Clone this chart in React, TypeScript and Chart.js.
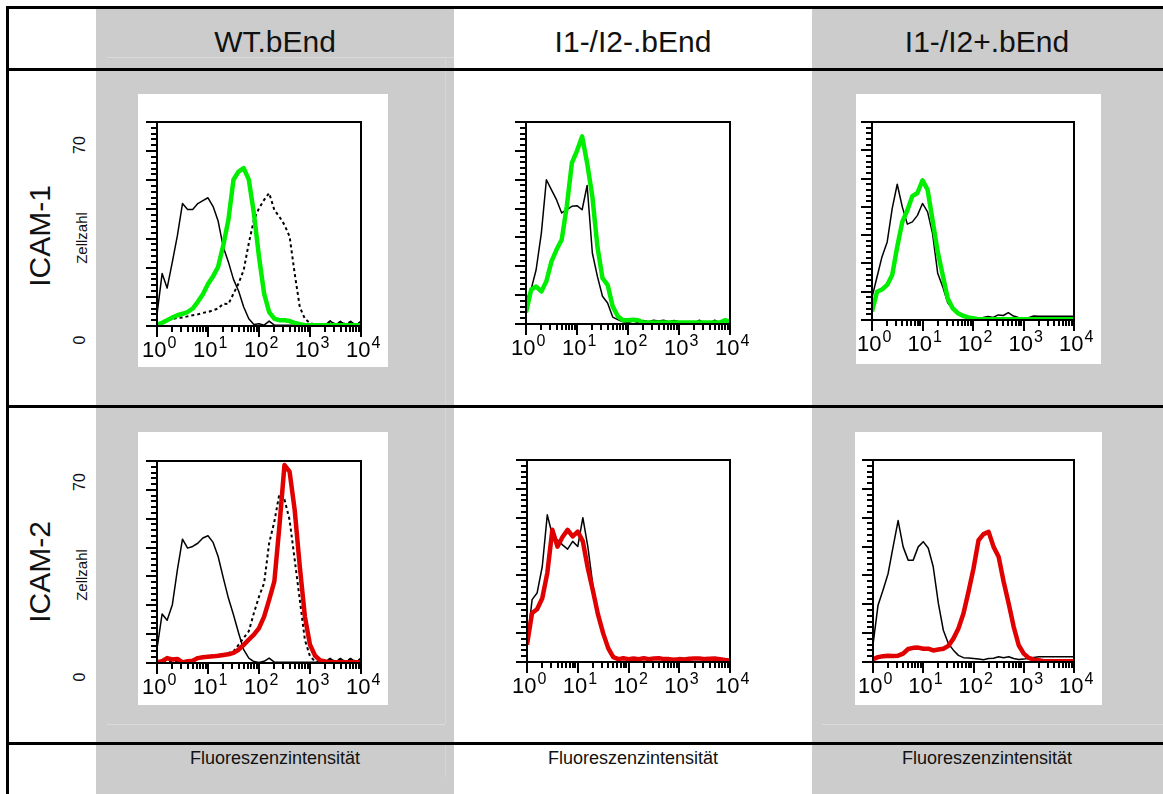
import React, { useEffect, useRef } from "react";
import { Chart, registerables } from "chart.js";

Chart.register(...registerables);

// ---------- data ----------
// Fluorescence channel centres (log scale, 10 per decade)
const CHANNELS = [
  1, 1.26, 1.58, 2, 2.51, 3.16, 3.98, 5.01, 6.31, 7.94,
  10, 12.6, 15.8, 20, 25.1, 31.6, 39.8, 50.1, 63.1, 79.4,
  100, 126, 158, 200, 251, 316, 398, 501, 631, 794,
  1000, 1259, 1585, 1995, 2512, 3162, 3981, 5012, 6310, 7943, 10000,
];

const COLUMN_TITLES = ["WT.bEnd", "I1-/I2-.bEnd", "I1-/I2+.bEnd"];
const ROW_TITLES = ["ICAM-1", "ICAM-2"];
const X_TICK_VALUES = [1, 10, 100, 1000, 10000];
const X_TICK_EXPONENTS = ["0", "1", "2", "3", "4"];
const Y_TICK_TOP = "70";
const Y_TICK_BOTTOM = "0";
const Y_TITLE = "Zellzahl";
const X_TITLE = "Fluoreszenzintensität";
const Y_MAX = 70;

// WT.bEnd, ICAM-1
const WT_ICAM1_CONTROL = [4, 18, 13, 22, 31, 42, 40, 40, 42, 43, 44, 41, 36, 27, 22, 16, 12, 6.5, 2.5, 0.5, 0.8, 0.3, 1.7, 0.3, 0.3, 0.3, 0.3, 0.3, 0.3, 0.3, 0.3, 0.3, 0.3, 0.5, 1.7, 0.3, 1.5, 0.3, 1.5, 0.3, 1.5];
const WT_ICAM1_STAIN = [0.5, 1.1, 2, 2.9, 3.7, 4.2, 4.8, 6, 8.3, 10.9, 14.4, 17.1, 20.3, 27.8, 36.4, 50.2, 53, 54.2, 50.2, 38.7, 23.8, 11.1, 4.8, 2.5, 2, 2, 1.7, 1.1, 0.6, 0.3, 0.3, 0.3, 0.3, 0.3, 0.3, 0.3, 0.3, 0.3, 0.3, 0.3, 0.3];
const WT_ICAM1_REFERENCE = [0.3, 1, 2, 2.4, 2.8, 2.9, 3.3, 3.7, 4, 4.5, 4.8, 5.4, 6, 7.7, 7.5, 11.1, 14.6, 19.2, 28.4, 36.4, 40.4, 43.3, 45.6, 39.8, 37.5, 34.7, 30.7, 18, 6.5, 2.5, 1, 0.5, 0.3, 0.3, 1.7, 0.5, 1.5, 0.5, 1.5, 0.3, 1.5];

// I1-/I2-.bEnd, ICAM-1
const KO_ICAM1_CONTROL = [8, 12, 18.8, 31.5, 50, 46.5, 43, 38.5, 39.6, 40.8, 41, 39.6, 48, 24.6, 16.5, 9.6, 7.3, 2.4, 1.5, 0.8, 0.5, 1, 0.5, 1.2, 0.8, 1.3, 1, 1.3, 0.8, 1.2, 0.8, 0.5, 0.3, 0.3, 1.3, 0.3, 0.3, 1.3, 0.3, 1, 0.3];
const KO_ICAM1_STAIN = [4, 11.9, 13, 11.3, 14.8, 21.7, 25.8, 29.2, 40.8, 55.8, 60, 65, 55.8, 44.2, 26.9, 15.9, 13.6, 6.1, 2.7, 1.3, 1.3, 1.5, 1.3, 0.5, 0.5, 0.5, 0.5, 0.5, 0.5, 0.5, 0.5, 0.5, 0.5, 0.5, 0.5, 0.5, 0.5, 0.5, 0.5, 1.3, 0.8];

// I1-/I2+.bEnd, ICAM-1
const HET_ICAM1_CONTROL = [8, 15.3, 22.4, 27.6, 39.4, 48, 40, 33.9, 34.7, 37, 41.2, 38.2, 30.6, 16.5, 11.8, 6.1, 3.8, 2.4, 1.8, 1.2, 0.9, 0.8, 0.9, 1.2, 0.9, 1.8, 1.6, 2.6, 1.4, 0.9, 0.6, 0.8, 1.4, 1.3, 1.3, 1.3, 1.3, 1.3, 1.3, 1.3, 1.3];
const HET_ICAM1_STAIN = [3, 10, 10.8, 12.4, 15.9, 25.9, 34.7, 38.8, 43.8, 44.9, 49.4, 46.1, 35.3, 24.1, 15.9, 7.6, 4.1, 2.4, 1.5, 0.9, 0.6, 0.3, 0.3, 0.3, 0.3, 0.3, 0.3, 0.3, 0.3, 0.3, 0.3, 0.3, 0.3, 0.3, 0.3, 0.3, 0.3, 0.3, 0.3, 0.3, 0.3];

// WT.bEnd, ICAM-2
const WT_ICAM2_CONTROL = [5, 17, 14.8, 20.2, 32.3, 42.9, 39.8, 40.4, 41.5, 43.3, 44.1, 41.8, 36.9, 29.4, 22.5, 16.7, 10.4, 4.6, 1.7, 0.5, 0.2, 0.6, 1.7, 0.3, 0.3, 0.3, 0.3, 0.3, 0.3, 0.3, 0.3, 0.3, 0.3, 0.5, 1.5, 0.3, 1.5, 0.3, 1.5, 0.3, 1.5];
const WT_ICAM2_STAIN = [0.2, 0.6, 1.7, 1.2, 1.4, 0.2, 0.6, 0.8, 1.7, 2, 2.2, 2.3, 2.5, 2.8, 3, 3.5, 4.6, 6.3, 8.1, 9.8, 12.1, 16.1, 21.9, 28.3, 47.3, 68.6, 66.3, 53, 33.4, 16.1, 6.3, 2.5, 0.9, 0.5, 0.3, 0.3, 0.3, 0.3, 0.3, 0.3, 0.3];
const WT_ICAM2_REFERENCE = [0.5, 0.5, 0.5, 0.5, 0.5, 0.5, 0.5, 0.5, 1.2, 2.1, 2.4, 2.5, 2.7, 2.9, 3.5, 4, 6.3, 8.7, 11, 17.3, 23, 27.7, 41.5, 49, 58.6, 56.7, 49.6, 35.8, 21.9, 8, 2.3, 0.6, 0.4, 0.4, 1.5, 0.4, 1.5, 0.4, 1.5, 0.4, 1.5];

// I1-/I2-.bEnd, ICAM-2
const KO_ICAM2_CONTROL = [6, 21.6, 23.9, 33.1, 51, 44, 42.3, 40.6, 39.1, 41.8, 40, 50, 40, 26.2, 17, 10, 5.4, 2.2, 1.2, 1, 1, 1, 1, 1, 1, 1, 1, 1, 1, 1, 1, 1, 1, 1, 1, 1, 1, 1, 1, 1, 0.5];
const KO_ICAM2_STAIN = [6, 17, 18.3, 22.1, 30.8, 45.8, 40, 43.3, 45.8, 43.5, 45.2, 41.8, 32.5, 24.5, 16.4, 10, 4.8, 1.7, 1, 1.3, 1, 1.2, 1, 1.3, 1, 1.2, 1.3, 1, 1, 0.8, 1, 0.9, 1.1, 1.2, 1.2, 1, 1.1, 1.2, 1, 0.7, 0.5];

// I1-/I2+.bEnd, ICAM-2
const HET_ICAM2_CONTROL = [6, 19.7, 24.9, 30.7, 39.9, 49, 39.9, 35.3, 35.3, 39.9, 41.7, 39.4, 33, 20.3, 11, 6.4, 4.1, 2.3, 1.5, 1.4, 1.2, 1, 0.8, 1.2, 1.3, 1.8, 1.5, 1.8, 1.2, 0.9, 1, 1.3, 1.6, 1.8, 1.8, 1.8, 1.8, 1.8, 1.8, 1.8, 1.8];
const HET_ICAM2_STAIN = [1, 1.7, 2, 2.2, 2.1, 2.2, 2.9, 4.5, 4.9, 5, 4.6, 4.6, 4, 4.3, 4.6, 5.6, 8.1, 11.6, 16.8, 24.3, 32.4, 42.2, 44.3, 45.1, 39.9, 36.5, 27.8, 20.3, 12.2, 5.8, 2.9, 1.4, 0.8, 0.6, 0.3, 0.3, 0.3, 0.3, 0.3, 0.3, 0.3];

// ---------- styles ----------
const GREEN = "#00ee00";
const RED = "#e00000";
const GRAY = "#cccccc";
const FONT = "'Liberation Sans', Arial, Helvetica, sans-serif";

type Series = { values: number[]; kind: "control" | "reference" | "green" | "red" };
type Box = { left: number; top: number; right: number; bottom: number };

const PAD = { left: 30, top: 20, right: 30, bottom: 45 };

const facsAxes = {
  id: "facsAxes",
  afterDatasetsDraw(chart: any) {
    const { ctx, chartArea: a, scales } = chart;
    const xs = scales.x;
    const ys = scales.y;
    ctx.save();
    ctx.strokeStyle = "#000";
    ctx.lineWidth = 2;
    ctx.strokeRect(a.left, a.top, a.right - a.left, a.bottom - a.top);
    // y ruler
    for (let v = 0; v <= Y_MAX; v += 2) {
      const py = Math.round(ys.getPixelForValue(v));
      const len = v % 10 === 0 ? 11 : 6;
      ctx.beginPath();
      ctx.moveTo(a.left - len, py);
      ctx.lineTo(a.left, py);
      ctx.stroke();
    }
    // x ruler (log)
    for (let d = 1; d <= 10000; d *= 10) {
      for (let m = 1; m <= 9; m++) {
        const v = d * m;
        if (v > 10000) break;
        const px = Math.round(xs.getPixelForValue(v));
        const len = m === 1 ? 11 : 6;
        ctx.beginPath();
        ctx.moveTo(px, a.bottom);
        ctx.lineTo(px, a.bottom + len);
        ctx.stroke();
      }
    }
    // tick labels 10^n
    ctx.fillStyle = "#000";
    ctx.textBaseline = "alphabetic";
    ctx.textAlign = "left";
    X_TICK_VALUES.forEach((v, i) => {
      const px = xs.getPixelForValue(v);
      ctx.font = `22px ${FONT}`;
      const w = ctx.measureText("10").width;
      const x0 = px - 15;
      ctx.fillText("10", x0, a.bottom + 31);
      ctx.font = `16px ${FONT}`;
      ctx.fillText(X_TICK_EXPONENTS[i], x0 + w + 1, a.bottom + 22);
    });
    ctx.restore();
  },
};

function Histogram({ box, series }: { box: Box; series: Series[] }) {
  const ref = useRef<HTMLCanvasElement | null>(null);
  const w = box.right - box.left + PAD.left + PAD.right;
  const h = box.bottom - box.top + PAD.top + PAD.bottom;
  useEffect(() => {
    if (!ref.current) return;
    const datasets = series.map((s) => {
      const base: any = {
        data: CHANNELS.map((c, i) => ({ x: c, y: s.values[i] })),
        pointRadius: 0,
        fill: false,
        tension: 0,
        borderJoinStyle: "round",
      };
      if (s.kind === "control") return { ...base, borderColor: "#000", borderWidth: 1.5, order: 3 };
      if (s.kind === "reference") return { ...base, borderColor: "#000", borderWidth: 2, borderDash: [3, 3], order: 2 };
      if (s.kind === "green") return { ...base, borderColor: GREEN, borderWidth: 4.5, order: 1 };
      return { ...base, borderColor: RED, borderWidth: 4.5, order: 1 };
    });
    const chart = new Chart(ref.current, {
      type: "line",
      data: { datasets },
      options: {
        responsive: false,
        maintainAspectRatio: false,
        animation: false,
        layout: { padding: PAD },
        plugins: { legend: { display: false }, tooltip: { enabled: false } },
        scales: {
          x: { type: "logarithmic", min: 1, max: 10000, display: false },
          y: { type: "linear", min: 0, max: Y_MAX, display: false },
        },
      },
      plugins: [facsAxes],
    } as any);
    return () => chart.destroy();
  }, []);
  return (
    <canvas
      ref={ref}
      width={w}
      height={h}
      style={{ position: "absolute", left: box.left - PAD.left, top: box.top - PAD.top, width: w, height: h }}
    />
  );
}

const BOXES: Box[] = [
  { left: 157, top: 122, right: 361, bottom: 326 },
  { left: 526, top: 122, right: 730, bottom: 324 },
  { left: 872, top: 122, right: 1074, bottom: 320 },
  { left: 157, top: 461, right: 361, bottom: 663 },
  { left: 527, top: 460, right: 730, bottom: 662 },
  { left: 873, top: 460, right: 1074, bottom: 662 },
];

const PANELS: Series[][] = [
  [
    { values: WT_ICAM1_CONTROL, kind: "control" },
    { values: WT_ICAM1_REFERENCE, kind: "reference" },
    { values: WT_ICAM1_STAIN, kind: "green" },
  ],
  [
    { values: KO_ICAM1_CONTROL, kind: "control" },
    { values: KO_ICAM1_STAIN, kind: "green" },
  ],
  [
    { values: HET_ICAM1_CONTROL, kind: "control" },
    { values: HET_ICAM1_STAIN, kind: "green" },
  ],
  [
    { values: WT_ICAM2_CONTROL, kind: "control" },
    { values: WT_ICAM2_REFERENCE, kind: "reference" },
    { values: WT_ICAM2_STAIN, kind: "red" },
  ],
  [
    { values: KO_ICAM2_CONTROL, kind: "control" },
    { values: KO_ICAM2_STAIN, kind: "red" },
  ],
  [
    { values: HET_ICAM2_CONTROL, kind: "control" },
    { values: HET_ICAM2_STAIN, kind: "red" },
  ],
];

const abs = (s: React.CSSProperties): React.CSSProperties => ({ position: "absolute", ...s });

function Rot({ text, cx, cy, size }: { text: string; cx: number; cy: number; size: number }) {
  return (
    <div
      style={abs({
        left: cx - 100,
        top: cy - 20,
        width: 200,
        height: 40,
        lineHeight: "40px",
        textAlign: "center",
        fontSize: size,
        fontFamily: FONT,
        color: "#111",
        transform: "rotate(-90deg)",
        whiteSpace: "nowrap",
      })}
    >
      {text}
    </div>
  );
}

export default function App() {
  const colCenters = [275, 633, 987];
  const titleCenters = [275, 633, 987];
  return (
    <div style={abs({ left: 0, top: 0, width: 1163, height: 794, background: "#fff", overflow: "hidden", fontFamily: FONT })}>
      {/* gray columns */}
      <div style={abs({ left: 96, top: 9, width: 358, height: 785, background: GRAY })} />
      <div style={abs({ left: 812, top: 9, width: 351, height: 785, background: GRAY })} />
      {/* faint artefact lines */}
      <div style={abs({ left: 107, top: 57, width: 347, height: 1, background: "#dadada" })} />
      <div style={abs({ left: 107, top: 724, width: 338, height: 1, background: "#dadada" })} />
      <div style={abs({ left: 445, top: 57, width: 1, height: 667, background: "#d6d6d6" })} />
      <div style={abs({ left: 445, top: 745, width: 1, height: 32, background: "#d6d6d6" })} />
      <div style={abs({ left: 822, top: 724, width: 341, height: 1, background: "#dadada" })} />
      {/* white plot backgrounds */}
      <div style={abs({ left: 138, top: 94, width: 250, height: 273, background: "#fff" })} />
      <div style={abs({ left: 856, top: 94, width: 245, height: 270, background: "#fff" })} />
      <div style={abs({ left: 138, top: 432, width: 250, height: 273, background: "#fff" })} />
      <div style={abs({ left: 855, top: 432, width: 247, height: 273, background: "#fff" })} />
      {/* table lines */}
      <div style={abs({ left: 6, top: 6, width: 1157, height: 3, background: "#000" })} />
      <div style={abs({ left: 6, top: 6, width: 3, height: 788, background: "#000" })} />
      <div style={abs({ left: 6, top: 68, width: 1157, height: 3, background: "#000" })} />
      <div style={abs({ left: 6, top: 405, width: 1157, height: 3, background: "#000" })} />
      <div style={abs({ left: 6, top: 742, width: 1157, height: 3, background: "#000" })} />
      {/* column titles */}
      {COLUMN_TITLES.map((t, i) => (
        <div
          key={t}
          style={abs({ left: titleCenters[i] - 170, top: 22, width: 340, height: 40, lineHeight: "40px", textAlign: "center", fontSize: 30, color: "#111" })}
        >
          {t}
        </div>
      ))}
      {/* row titles */}
      <Rot text={ROW_TITLES[0]} cx={40} cy={236} size={30} />
      <Rot text={ROW_TITLES[1]} cx={40} cy={572} size={30} />
      {/* y labels */}
      {[0, 1].map((r) => {
        const off = r === 0 ? 0 : 337;
        return (
          <React.Fragment key={r}>
            <Rot text={Y_TICK_TOP} cx={80} cy={145 + off} size={16} />
            <Rot text={Y_TITLE} cx={82} cy={238 + off} size={15} />
            <Rot text={Y_TICK_BOTTOM} cx={80} cy={340 + off} size={16} />
          </React.Fragment>
        );
      })}
      {/* x titles */}
      {colCenters.map((c, i) => (
        <div
          key={i}
          style={abs({ left: c - 150, top: 746, width: 300, height: 24, lineHeight: "24px", textAlign: "center", fontSize: 18, color: "#111" })}
        >
          {X_TITLE}
        </div>
      ))}
      {/* charts */}
      {BOXES.map((b, i) => (
        <Histogram key={i} box={b} series={PANELS[i]} />
      ))}
    </div>
  );
}
